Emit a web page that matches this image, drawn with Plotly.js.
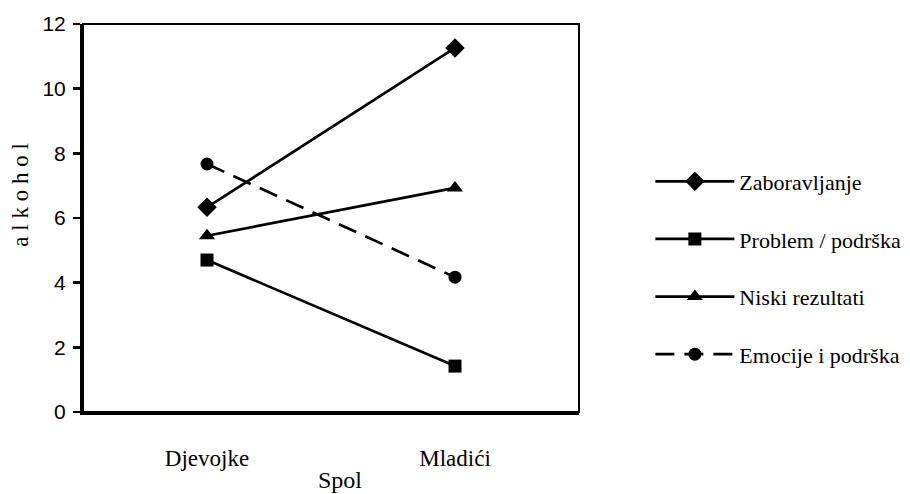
<!DOCTYPE html>
<html>
<head>
<meta charset="utf-8">
<script src="https://cdn.plot.ly/plotly-3.0.1.min.js"></script>
<style>html,body{margin:0;padding:0;background:#fff;overflow:hidden;}#chart{width:918px;height:494px;}</style>
</head>
<body>
<div id="chart"></div>
<script>
const categories = ["Djevojke", "Mladići"];
const seriesNames = ["Zaboravljanje", "Problem / podrška", "Niski rezultati", "Emocije i podrška"];
const zaboravljanje = [6.33, 11.26];
const problemPodrska = [4.70, 1.42];
const niskiRezultati = [5.45, 6.93];
const emocijePodrska = [7.67, 4.17];
const yTicks = [0, 2, 4, 6, 8, 10, 12];
const xTitle = "Spol";
const yTitle = "a l k o h o l";

const seriesValues = [zaboravljanje, problemPodrska, niskiRezultati, emocijePodrska];
const symbols = ["diamond", "square", "triangle-up", "circle"];
const dashes = ["solid", "solid", "solid", "19px,10px"];
const sizes = [15, 13, 14, 13];

const traces = seriesValues.map((vals, i) => ({
  x: categories,
  y: vals,
  name: seriesNames[i],
  type: "scatter",
  mode: "lines+markers",
  legendgroup: "g" + i,
  line: {color: "#000", width: 2.7, dash: dashes[i]},
  marker: {symbol: symbols[i], size: sizes[i], color: "#000"},
  cliponaxis: false
}));

const serifFont = "Liberation Serif";
const sansFont = "Liberation Sans";

const layout = {
  width: 918, height: 494,
  margin: {l: 83, r: 332, t: 24, b: 82},
  paper_bgcolor: "#fff", plot_bgcolor: "#fff",
  font: {family: serifFont, size: 22, color: "#000"},
  showlegend: true,
  legend: {
    x: 1.66, y: 0.371, xanchor: "right", yanchor: "middle",
    font: {family: serifFont, size: 22, color: "#000"},
    itemwidth: 79, tracegroupgap: 26, borderwidth: 0,
    bgcolor: "rgba(0,0,0,0)"
  },
  xaxis: {
    type: "category",
    range: [-0.5, 1.5],
    showgrid: false, zeroline: false,
    showline: true, linecolor: "#000", linewidth: 3,
    ticks: "", ticklabelstandoff: 23,
    tickfont: {family: serifFont, size: 23, color: "#000"}
  },
  yaxis: {
    range: [0, 12],
    tickvals: yTicks,
    ticktext: yTicks.map(String),
    showgrid: false, zeroline: false,
    showline: true, linecolor: "#000", linewidth: 3,
    ticks: "outside", ticklen: 7, tickwidth: 2.5, tickcolor: "#000",
    ticklabelstandoff: 3,
    tickfont: {family: sansFont, size: 21, color: "#000"}
  },
  shapes: [{
    type: "rect", xref: "paper", yref: "paper", x0: 0, x1: 1, y0: 0, y1: 1,
    line: {color: "#000", width: 2}
  }],
  annotations: [{
    text: yTitle, xref: "paper", yref: "paper",
    x: -0.125, y: 0.56, xanchor: "center", yanchor: "middle",
    textangle: -90, showarrow: false,
    font: {family: serifFont, size: 23, color: "#000"}
  }, {
    text: xTitle, xref: "paper", yref: "paper",
    x: 0.518, y: -0.175, xanchor: "center", yanchor: "middle",
    showarrow: false,
    font: {family: serifFont, size: 24, color: "#000"}
  }]
};

Plotly.newPlot("chart", traces, layout, {displayModeBar: false, staticPlot: true});
</script>
</body>
</html>
